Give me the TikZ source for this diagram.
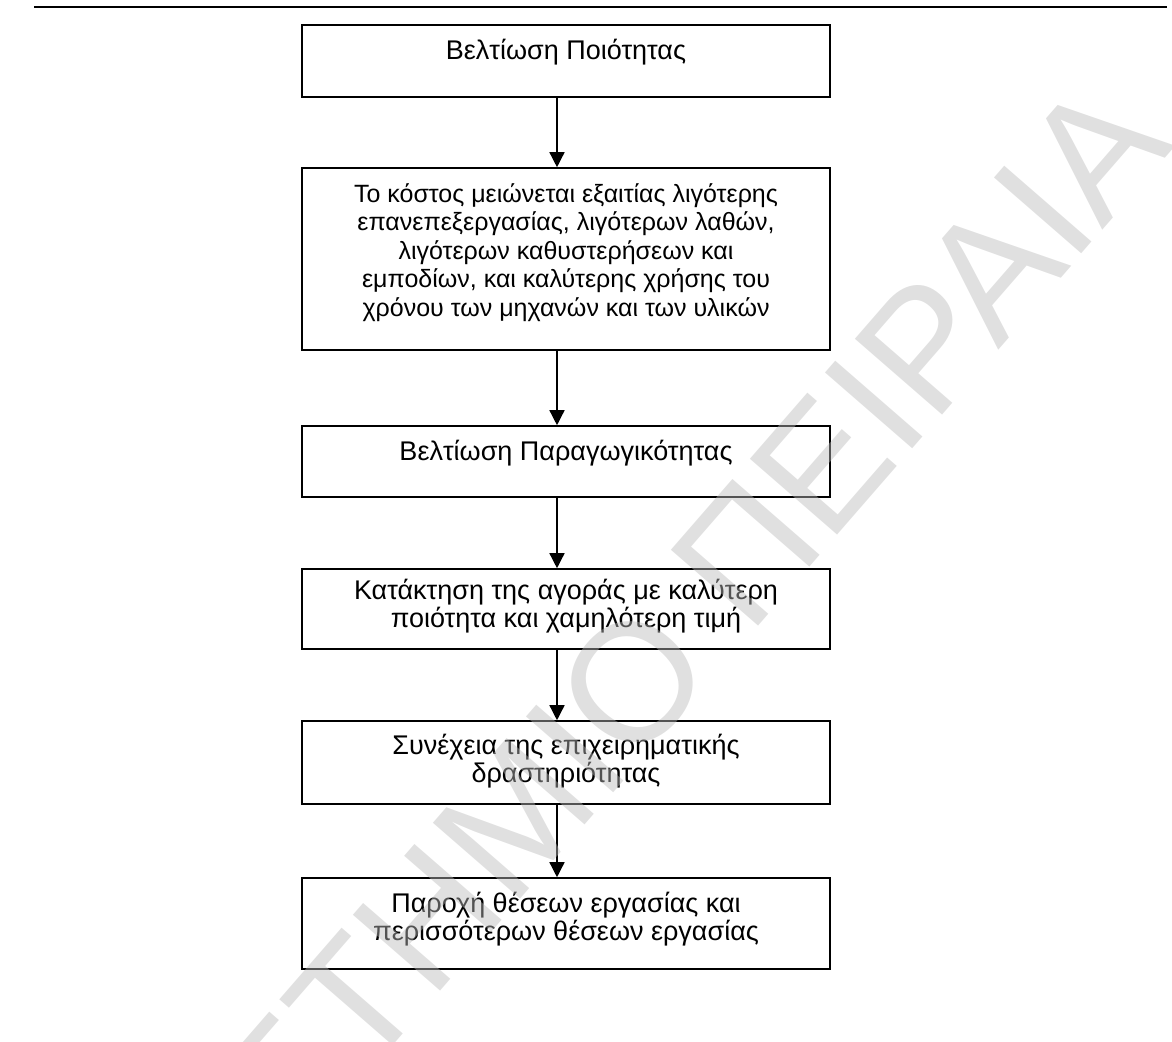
\documentclass[tikz,border=0pt]{standalone}
\usepackage{fontspec}
\setmainfont{Liberation Sans}
\usetikzlibrary{arrows.meta}
\begin{document}
\begin{tikzpicture}[x=0.5pt,y=-0.5pt,
  box/.style={draw, line width=0.8pt, minimum width=264pt, inner sep=0pt},
  txt/.style={anchor=north, align=center, inner sep=0pt,
    font=\fontsize{13.5}{13.8}\selectfont},
  smalltxt/.style={txt, font=\fontsize{12.5}{14.2}\selectfont},
  arr/.style={line width=0.7pt, -{Triangle[length=7.5pt,width=7.5pt]}},
  wmark/.style={rotate=49, inner sep=0pt, text=black!27, text opacity=0.45,
    font=\fontsize{84}{84}\selectfont}]
\useasboundingbox (0,0) rectangle (1172,1041);

% rule across the top of the page
\coordinate (ruleL) at (34,7);
\coordinate (ruleR) at (1167,7);
\draw[line width=1.2pt] (ruleL) -- (ruleR);

% the six steps of the chain
\node[box, minimum height=36pt]   (b1) at (566,61)    {};
\node[box, minimum height=91pt]   (b2) at (566,259)   {};
\node[box, minimum height=35.5pt] (b3) at (566,461.5) {};
\node[box, minimum height=40pt]   (b4) at (566,609)   {};
\node[box, minimum height=41.5pt] (b5) at (566,762.5) {};
\node[box, minimum height=45.5pt] (b6) at (566,923.5) {};

\node[txt] (t1) at ([yshift=-7.5pt]b1.north) {Βελτίωση Ποιότητας};
\node[smalltxt] (t2) at ([yshift=-8pt]b2.north) {Το κόστος μειώνεται εξαιτίας λιγότερης\\
  επανεπεξεργασίας, λιγότερων λαθών,\\ λιγότερων καθυστερήσεων και\\
  εμποδίων, και καλύτερης χρήσης του\\ χρόνου των μηχανών και των υλικών};
\node[txt] (t3) at ([yshift=-7.5pt]b3.north) {Βελτίωση Παραγωγικότητας};
\node[txt] (t4) at ([yshift=-5.5pt]b4.north) {Κατάκτηση της αγοράς με καλύτερη\\ ποιότητα και χαμηλότερη τιμή};
\node[txt] (t5) at ([yshift=-7pt]b5.north) {Συνέχεια της επιχειρηματικής\\ δραστηριότητας};
\node[txt] (t6) at ([yshift=-7.5pt]b6.north) {Παροχή θέσεων εργασίας και\\ περισσότερων θέσεων εργασίας};

% arrows between consecutive steps
\foreach \a/\b in {b1/b2, b2/b3, b3/b4, b4/b5, b5/b6}
  \draw[arr] ([xshift=-4.5pt]\a.south) -- ([xshift=-4.5pt]\b.north);

% diagonal watermark laid over the page
\begin{scope}
\clip (0,0) rectangle (1172,1041);
\node[wmark, anchor=base east] (wm1) at (720,670) {ΠΑΝΕΠΙΣΤΗΜΙΟ};
\node[wmark, anchor=base west] (wm2) at (749,637) {ΠΕΙΡΑΙΑ};
\end{scope}
\end{tikzpicture}
\end{document}
